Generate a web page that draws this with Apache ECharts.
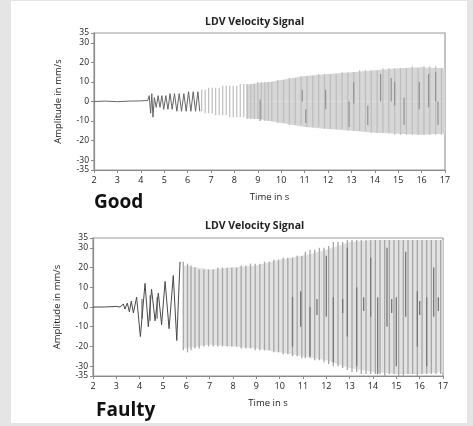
<!DOCTYPE html>
<html>
<head>
<meta charset="utf-8">
<script src="https://cdn.jsdelivr.net/npm/echarts@6/dist/echarts.min.js"></script>
<style>
  html, body { margin: 0; padding: 0; background: #e4e5e4; }
  #chart { width: 473px; height: 426px; }
</style>
</head>
<body>
<div id="chart"></div>
<script>
// tick positions
const xTicksMin = 2
const xTicksMax = 17
const yTicks = [-35, -30, -20, -10, 0, 10, 20, 30, 35]

// --- Good: early trace (time, amplitude) ---
const goodWaveT = [2, 2.5, 3, 3.5, 4, 4.3, 4.36, 4.42, 4.47, 4.52, 4.58, 4.66, 4.74, 4.82, 4.9, 4.98,
  5.07, 5.16, 5.25, 5.34, 5.44, 5.54, 5.64, 5.74, 5.84, 5.94, 6.04, 6.14, 6.24, 6.34, 6.44, 6.52]
const goodWaveV = [0, 0.2, -0.1, 0.2, 0.3, 0.5, 3, -6, 4, -8, 2, -3, 3, -3, 3, -4,
  3, -4, 4, -4, 4, -5, 4, -5, 4, -5, 5, -5, 5, -5, 5, -5]

// Good: oscillation cycles [time, low, high]
const goodCycles = [
  [6.6, -5, 6], [6.75, -6, 6], [6.9, -6, 7], [7.05, -6, 7], [7.2, -7, 7], [7.35, -7, 7],
  [7.5, -7, 8], [7.65, -7, 8], [7.8, -8, 8], [7.95, -8, 8], [8.1, -8, 8], [8.25, -8, 9],
  [8.4, -8, 9], [8.55, -9, 9], [8.7, -9, 9], [8.85, -9, 9], [9.0, -9, 10], [9.15, -9, 10],
  [9.3, -10, 10], [9.45, -10, 10], [9.6, -10, 10], [9.85, -11, 11], [10.1, -11, 11],
  [10.35, -12, 12], [10.6, -12, 12], [10.85, -12, 13], [11.1, -13, 13], [11.35, -13, 13],
  [11.6, -13, 14], [11.85, -14, 14], [12.1, -14, 14], [12.35, -14, 14], [12.6, -14, 15],
  [12.85, -15, 15], [13.1, -15, 15], [13.35, -15, 16], [13.6, -15, 16], [13.85, -16, 16],
  [14.1, -16, 16], [14.35, -16, 17], [14.6, -16, 17], [14.85, -17, 17], [15.1, -17, 17],
  [15.35, -17, 17], [15.6, -17, 18], [15.85, -17, 17], [16.1, -17, 18], [16.35, -17, 18],
  [16.6, -17, 18], [16.85, -17, 17]
]
const goodDark = [
  [9.1, -10, 1], [10.9, 0, 6], [11.05, -11, -4], [11.9, -4, 6], [12.9, -13, 0], [13.1, -1, 10],
  [13.7, -12, -2], [14.25, 0, 14], [14.7, 0, 12], [14.85, -2, 10], [15.25, -12, 2],
  [15.9, -4, 10], [16.3, -3, 14], [16.6, 0, 15], [16.7, -12, 0]
]
const goodFillT = [8.5, 9, 9.5, 10, 11, 12, 13, 14, 15, 16, 17]
const goodFillHi = [8.5, 9.5, 10, 11, 13, 14, 15, 16, 17, 17.5, 17]
const goodFillLo = [-8.5, -9, -10, -11, -13, -14, -15, -16, -16.5, -17, -16.5]

// --- Faulty: early trace ---
const faultyWaveT = [2, 2.5, 3, 3.16, 3.3, 3.37, 3.47, 3.56, 3.64, 3.73, 3.8, 3.87, 4.03, 4.23,
  4.37, 4.51, 4.66, 4.8, 4.94, 5.09, 5.26, 5.44, 5.59, 5.73]
const faultyWaveV = [0, 0, 0.3, 0, 1.5, -1, 2, -2.5, 3, -3, 1, 5, -15, 12,
  -10, 9, -7, 7, -9, 13, -11, 16, -17, 23]

const faultyCycles = [
  [5.87, -22, 23], [6.05, -23, 22], [6.2, -22, 21], [6.37, -21, 20], [6.55, -21, 19],
  [6.75, -20, 19], [6.95, -20, 19], [7.15, -20, 19], [7.35, -20, 20], [7.55, -20, 20],
  [7.75, -20, 20], [7.95, -20, 20], [8.15, -20, 20], [8.35, -21, 21], [8.55, -21, 21],
  [8.75, -21, 22], [8.95, -22, 22], [9.15, -22, 22], [9.35, -22, 23], [9.55, -22, 23],
  [9.75, -23, 24], [9.95, -23, 24], [10.15, -24, 25], [10.35, -24, 25], [10.55, -25, 25],
  [10.75, -25, 26], [10.95, -26, 26], [11.1, -26, 28], [11.3, -26, 29], [11.5, -27, 29],
  [11.7, -27, 30], [11.9, -28, 30], [12.1, -29, 31], [12.3, -30, 33], [12.5, -30, 33],
  [12.7, -31, 33], [12.9, -32, 34], [13.1, -33, 34], [13.3, -33, 34], [13.5, -34, 34],
  [13.7, -34, 34], [13.9, -34, 34], [14.1, -34, 34], [14.3, -34, 34], [14.5, -35, 34],
  [14.7, -34, 34], [14.9, -34, 34], [15.1, -35, 34], [15.3, -35, 34], [15.5, -34, 34],
  [15.7, -34, 34], [15.9, -35, 34], [16.1, -34, 34], [16.3, -34, 34], [16.5, -34, 34],
  [16.7, -34, 34], [16.9, -34, 34]
]
const faultyDark = [
  [4.1, -6, 4], [4.45, -7, 6], [4.75, -6, 5], [10.55, -20, 5], [10.9, -10, 8], [11.3, -25, 0],
  [11.6, -4, 4], [12.0, -5, 26], [12.3, -28, 5], [12.7, -3, 4], [12.9, -15, 30], [13.3, -30, 10],
  [13.6, -2, 5], [13.9, -5, 25], [14.2, -34, 5], [14.6, -10, 30], [14.8, -3, 4], [15.0, -30, 5],
  [15.4, -5, 28], [15.9, -20, 8], [16.0, -4, 3], [16.3, -30, 5], [16.6, -5, 20], [16.8, -2, 5]
]
const faultyFillT = [5.9, 7, 8, 9, 10, 11, 12, 12.5, 13, 14, 15, 16, 17]
const faultyFillHi = [21, 19, 20, 21, 24, 26, 29, 31, 33, 34, 34, 34, 34]
const faultyFillLo = [-21, -19, -20, -21, -23, -25, -27, -29, -31, -33, -34, -34, -33]

const font = 'Open Sans'
const ink = '#222'
const axisGray = '#8a8a8a'

const zip = (a, b) => a.map((v, i) => [v, b[i]])

const streakSeries = (idx, data, color, width, z) => ({
  type: 'custom',
  xAxisIndex: idx,
  yAxisIndex: idx,
  z,
  data,
  encode: { x: 0, y: [1, 2] },
  silent: true,
  renderItem: (params, api) => {
    const a = api.coord([api.value(0), api.value(1)])
    const b = api.coord([api.value(0), api.value(2)])
    return {
      type: 'line',
      shape: { x1: a[0], y1: a[1], x2: b[0], y2: b[1] },
      style: { stroke: color, lineWidth: width }
    }
  }
})

const fillSeries = (idx, t, v, color) => ({
  type: 'line',
  xAxisIndex: idx,
  yAxisIndex: idx,
  z: 1,
  data: zip(t, v),
  symbol: 'none',
  silent: true,
  lineStyle: { width: 0, opacity: 0 },
  areaStyle: { color, opacity: 1, origin: 0 }
})

const waveSeries = (idx, t, v, color) => ({
  type: 'line',
  xAxisIndex: idx,
  yAxisIndex: idx,
  z: 5,
  data: zip(t, v),
  symbol: 'none',
  silent: true,
  lineStyle: { color, width: 1 }
})

const xAxis = (idx) => ({
  type: 'value',
  gridIndex: idx,
  min: xTicksMin,
  max: xTicksMax,
  interval: 1,
  name: 'Time in s',
  nameLocation: 'middle',
  nameGap: 22,
  nameTextStyle: { color: ink, fontFamily: font, fontSize: 9.5 },
  axisLine: { onZero: false, lineStyle: { color: axisGray, width: 1.2 } },
  axisTick: { show: true, length: 3, lineStyle: { color: axisGray } },
  axisLabel: { color: ink, fontFamily: font, fontSize: 9, margin: 6 },
  splitLine: { show: false }
})

const yAxis = (idx) => ({
  type: 'value',
  gridIndex: idx,
  min: -35,
  max: 35,
  name: 'Amplitude in mm/s',
  nameLocation: 'middle',
  nameGap: 31,
  nameTextStyle: { color: ink, fontFamily: font, fontSize: 9.5 },
  axisLine: { show: true, onZero: false, lineStyle: { color: axisGray, width: 1.2 } },
  axisTick: { show: true, length: 3, customValues: yTicks, lineStyle: { color: axisGray } },
  axisLabel: { color: ink, fontFamily: font, fontSize: 8.5, margin: 5, customValues: yTicks },
  splitLine: { show: false }
})

const chart = echarts.init(document.getElementById('chart'))
chart.setOption({
  animation: false,
  backgroundColor: '#e4e5e4',
  graphic: [{
    type: 'rect', z: -10, silent: true,
    shape: { x: 11, y: 1, width: 456, height: 422 },
    style: { fill: '#ffffff' }
  }],
  title: [
    { text: 'LDV Velocity Signal', left: 200, top: 12,
      textStyle: { color: ink, fontFamily: font, fontSize: 10.5, fontWeight: 'bold' } },
    { text: 'LDV Velocity Signal', left: 200, top: 216,
      textStyle: { color: ink, fontFamily: font, fontSize: 10.5, fontWeight: 'bold' } },
    { text: 'Good', left: 89, top: 188,
      textStyle: { color: '#111', fontFamily: font, fontSize: 19, fontWeight: 'bold' } },
    { text: 'Faulty', left: 91, top: 396,
      textStyle: { color: '#111', fontFamily: font, fontSize: 19, fontWeight: 'bold' } }
  ],
  grid: [
    { left: 94, right: 28, top: 33, height: 137, show: true, borderColor: '#9a9a9a', borderWidth: 1.2, backgroundColor: 'transparent' },
    { left: 93, right: 30, top: 238, height: 138, show: true, borderColor: '#9a9a9a', borderWidth: 1.2, backgroundColor: 'transparent' }
  ],
  xAxis: [xAxis(0), xAxis(1)],
  yAxis: [yAxis(0), yAxis(1)],
  series: [
    fillSeries(0, goodFillT, goodFillHi, '#d6d6d6'),
    fillSeries(0, goodFillT, goodFillLo, '#d6d6d6'),
    streakSeries(0, goodCycles, '#bdbdbd', 1.2, 3),
    streakSeries(0, goodDark, '#8c8c8c', 1.1, 4),
    waveSeries(0, goodWaveT, goodWaveV, '#666666'),

    fillSeries(1, faultyFillT, faultyFillHi, '#e2e2e2'),
    fillSeries(1, faultyFillT, faultyFillLo, '#e2e2e2'),
    streakSeries(1, faultyCycles, '#a6a6a6', 1.3, 3),
    streakSeries(1, faultyDark, '#777777', 1.3, 4),
    waveSeries(1, faultyWaveT, faultyWaveV, '#4a4a4a')
  ]
})
</script>
</body>
</html>
